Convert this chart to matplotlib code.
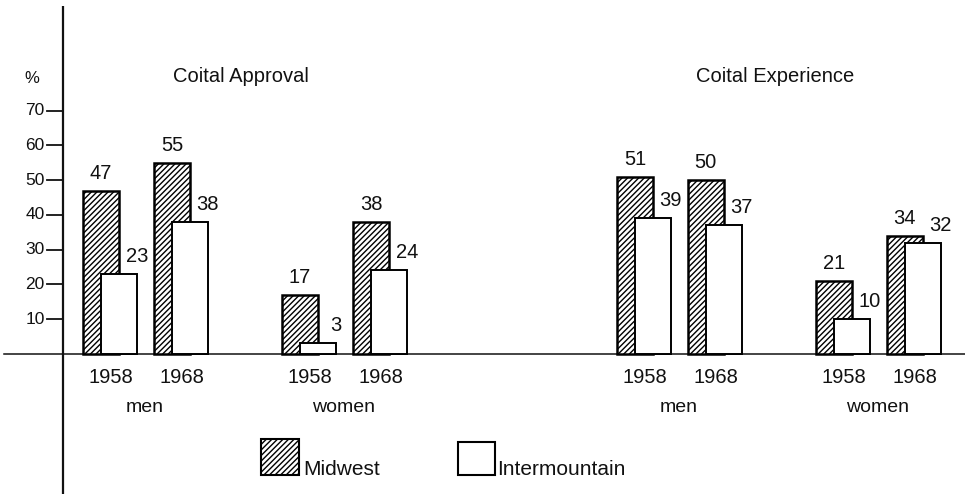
import matplotlib
matplotlib.use('Agg')
import matplotlib.pyplot as plt
from matplotlib.patches import Rectangle

plt.rcParams['font.family'] = ['Liberation Sans', 'DejaVu Sans']
plt.rcParams['hatch.linewidth'] = 1.0

panels = ['Coital Approval', 'Coital Experience']
sexes = ['men', 'women']
years = ['1958', '1968']
yticks = [10, 20, 30, 40, 50, 60, 70]

# order in each list: men 1958, men 1968, women 1958, women 1968
approval_midwest = [47, 55, 17, 38]
approval_intermountain = [23, 38, 3, 24]
experience_midwest = [51, 50, 21, 34]
experience_intermountain = [39, 37, 10, 32]

midwest = [approval_midwest, experience_midwest]
intermountain = [approval_intermountain, experience_intermountain]

# layout (x unit = one bar width)
bar_w = 1.0
shift = 0.5
year_step = 1.97
sex_step = 5.53
panel_step = 14.83
ink = '#111111'


def bar_lefts(p):
    out = []
    for s in range(len(sexes)):
        for y in range(len(years)):
            out.append(p * panel_step + s * sex_step + y * year_step)
    return out


fig = plt.figure(figsize=(9.65, 4.94), dpi=100)
ax = fig.add_axes([0, 0, 1, 1])
ax.set_xlim(-2.306, 24.5)
ax.set_ylim(-40.4, 101.9)
ax.axis('off')

# axes lines and ticks
ax.plot([-0.556, -0.556], [-41, 100.2], color=ink, lw=1.6, solid_capstyle='butt')
ax.plot([-2.2, 24.5], [0, 0], color=ink, lw=1.1)
for t in yticks:
    ax.plot([-1.0, -0.556], [t, t], color=ink, lw=1.3)
    ax.text(-1.06, t, str(t), ha='right', va='center', fontsize=12.5, color=ink)
ax.text(-1.417, 79.4, '%', ha='center', va='center', fontsize=12, color=ink)

for p, title in enumerate(panels):
    lefts = bar_lefts(p)
    ax.bar(lefts, midwest[p], width=bar_w, align='edge', color='white',
           edgecolor='black', hatch='//////', lw=1.8, zorder=2)
    ax.bar([x + shift for x in lefts], intermountain[p], width=bar_w, align='edge',
           color='white', edgecolor='black', lw=1.4, zorder=3)

    for x, v in zip(lefts, midwest[p]):
        ax.annotate(str(v), (x + bar_w / 2, v), xytext=(0, 8.6), textcoords='offset points',
                    ha='center', va='baseline', fontsize=14.5, color=ink)
    for x, v in zip(lefts, intermountain[p]):
        ax.annotate(str(v), (x + shift + bar_w, v), xytext=(0, 8.6), textcoords='offset points',
                    ha='center', va='baseline', fontsize=14.5, color=ink)

    # year and sex labels
    for i, x in enumerate(lefts):
        ax.text(x + 0.77, -8.4, years[i % 2], ha='center', va='baseline',
                fontsize=14.5, color=ink)
    for s, sex in enumerate(sexes):
        cx = lefts[2 * s] + 0.77 + year_step / 2 - 0.05
        ax.text(cx, -16.8, sex, ha='center', va='baseline', fontsize=14, color=ink)

    ax.text(p * panel_step + 4.4, 80, title, ha='center', va='center',
            fontsize=14.5, color=ink)

# legend
ax.add_patch(Rectangle((4.94, -34.8), 1.06, 10.1, facecolor='white', edgecolor='black',
                       hatch='//////', lw=1.5))
ax.text(6.11, -34.8, 'Midwest', ha='left', va='baseline', fontsize=15, color=ink)
ax.add_patch(Rectangle((10.42, -34.8), 1.03, 9.5, facecolor='white', edgecolor='black', lw=1.5))
ax.text(11.5, -34.8, 'Intermountain', ha='left', va='baseline', fontsize=15, color=ink)

fig.savefig('out.png', dpi=100)
